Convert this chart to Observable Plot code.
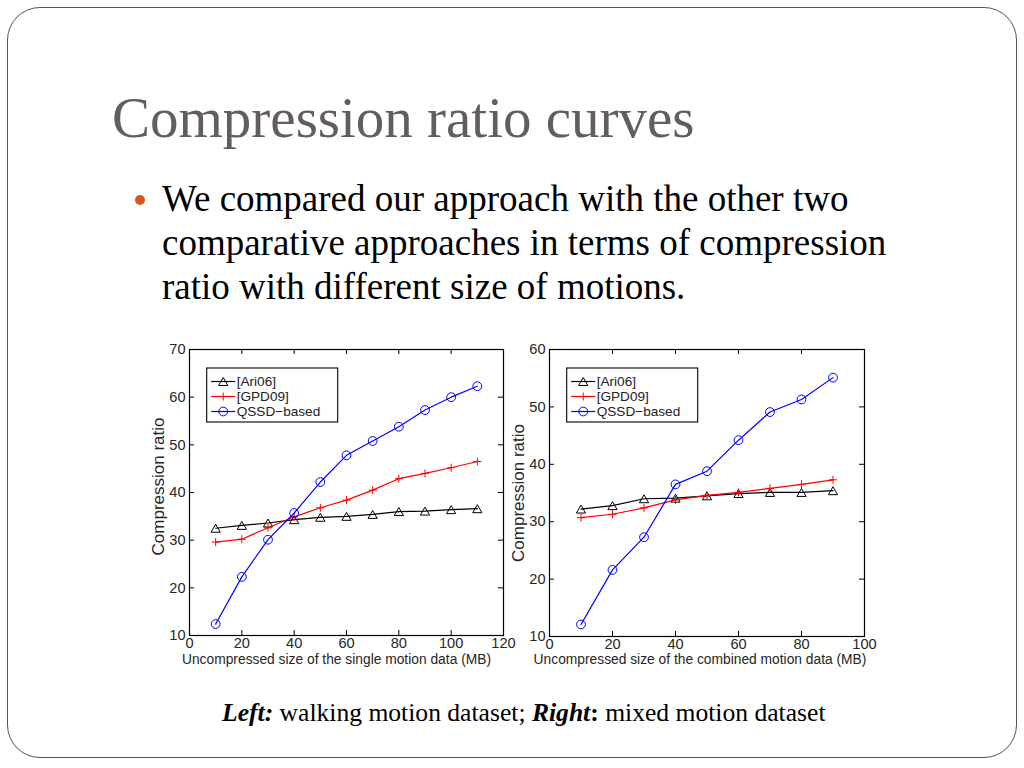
<!DOCTYPE html>
<html>
<head>
<meta charset="utf-8">
<script src="https://cdn.jsdelivr.net/npm/d3@7"></script>
<script src="https://cdn.jsdelivr.net/npm/@observablehq/plot@0.6"></script>
<style>
  html, body { margin: 0; padding: 0; background: #fff; }
  body { width: 1024px; height: 768px; position: relative; overflow: hidden; }
  #border { position: absolute; left: 7px; top: 7px; width: 1010px; height: 751px; box-sizing: border-box;
            border: 1.3px solid #555; border-radius: 33px; }
  #title { position: absolute; left: 112px; top: 89px; font-family: "Liberation Serif", "Times New Roman", serif;
           font-size: 57px; line-height: 57px; color: #635d5d; white-space: nowrap; }
  #bullet { position: absolute; left: 162px; top: 177px; font-family: "Liberation Serif", "Times New Roman", serif;
            font-size: 37px; line-height: 44px; color: #000; white-space: nowrap; }
  #dot { position: absolute; left: 135px; top: 195px; width: 10px; height: 10px; border-radius: 50%; background: #dc5422; }
  #caption { position: absolute; left: 222px; top: 700px; font-family: "Liberation Serif", "Times New Roman", serif;
             font-size: 25.6px; line-height: 25.6px; color: #000; white-space: nowrap; }
  .chart { position: absolute; top: 335px; }
  #left { left: 140px; }
  #right { left: 505px; }
</style>
</head>
<body>
<div id="border"></div>
<div id="title">Compression ratio curves</div>
<div id="dot"></div>
<div id="bullet">We compared our approach with the other two<br>comparative approaches in terms of compression<br>ratio with different size of motions.</div>
<div class="chart" id="left"></div>
<div class="chart" id="right"></div>
<div id="caption"><b><i>Left:</i></b> walking motion dataset; <b><i>Right</i>:</b> mixed motion dataset</div>
<script>
// ---- data ----
const seriesNames = ["[Ari06]", "[GPD09]", "QSSD\u2212based"];
const seriesColors = ["#000000", "#ff0000", "#0000ff"];

const xLeft = [10, 20, 30, 40, 50, 60, 70, 80, 90, 100, 110];
const ari06Left = [32.5, 33.1, 33.6, 34.3, 34.8, 35.0, 35.4, 36.0, 36.1, 36.4, 36.6];
const gpd09Left = [29.6, 30.2, 32.6, 34.9, 36.8, 38.4, 40.5, 42.9, 44.0, 45.2, 46.5];
const qssdLeft = [12.4, 22.3, 30.1, 35.7, 42.2, 47.8, 50.8, 53.8, 57.3, 60.0, 62.3];

const xRight = [10, 20, 30, 40, 50, 60, 70, 80, 90];
const ari06Right = [32.2, 32.8, 34.0, 34.1, 34.5, 34.9, 35.1, 35.1, 35.4];
const gpd09Right = [30.7, 31.3, 32.4, 33.8, 34.6, 35.1, 35.8, 36.5, 37.3];
const qssdRight = [12.1, 21.6, 27.3, 36.5, 38.8, 44.2, 49.1, 51.3, 55.1];

const xTicksLeft = [0, 20, 40, 60, 80, 100, 120];
const yTicksLeft = [10, 20, 30, 40, 50, 60, 70];
const xTicksRight = [0, 20, 40, 60, 80, 100];
const yTicksRight = [10, 20, 30, 40, 50, 60];

const xLabelLeft = "Uncompressed size of the single motion data (MB)";
const xLabelRight = "Uncompressed size of the combined motion data (MB)";
const yLabel = "Compression ratio";

// ---- marker symbols ----
const triSym = { draw(ctx, size) { const r = Math.sqrt(size / Math.PI); const h = r * Math.sqrt(3);
  ctx.moveTo(0, -h / 2); ctx.lineTo(r, h / 2); ctx.lineTo(-r, h / 2); ctx.closePath(); } };
const plusSym = { draw(ctx, size) { const r = Math.sqrt(size / Math.PI);
  ctx.moveTo(-r, 0); ctx.lineTo(r, 0); ctx.moveTo(0, -r); ctx.lineTo(0, r); } };
const circSym = d3.symbolCircle;
const seriesSymbols = [triSym, plusSym, circSym];
const seriesR = [4.6, 4.0, 4.4];

function legendMark() {
  return (index, scales, values, dims) => {
    const g = d3.create("svg:g");
    const bx = dims.marginLeft + 17.7, by = dims.marginTop + 19;
    g.append("rect").attr("x", bx).attr("y", by).attr("width", 131).attr("height", 54)
      .attr("fill", "#fff").attr("stroke", "#000").attr("stroke-width", 1.1);
    seriesNames.forEach((name, i) => {
      const cy = by + 13.5 + i * 15;
      g.append("line").attr("x1", bx + 4.5).attr("x2", bx + 28.5).attr("y1", cy).attr("y2", cy)
        .attr("stroke", seriesColors[i]).attr("stroke-width", 1.2);
      g.append("path").attr("transform", `translate(${bx + 16.5},${cy})`)
        .attr("d", d3.symbol(seriesSymbols[i], Math.PI * seriesR[i] * seriesR[i])())
        .attr("fill", "none").attr("stroke", seriesColors[i]).attr("stroke-width", 1);
      g.append("text").attr("x", bx + 30).attr("y", cy).attr("dy", "0.35em")
        .style("text-anchor", "start").style("font-size", "13.6px").attr("fill", "#222").text(name);
    });
    return g.node();
  };
}

function chart({ xs, vals, xDomain, xTicks, yDomain, yTicks, xLabel, width, height, mL, mR, mT, mB, xlDx, xlDy, ylDy }) {
  const innerW = width - mL - mR, innerH = height - mT - mB;
  const marks = [
    Plot.frame({ stroke: "#000", strokeWidth: 1.2 }),
    Plot.tickY(yTicks, { y: d => d, insetRight: innerW - 5, stroke: "#000" }),
    Plot.tickY(yTicks, { y: d => d, insetLeft: innerW - 5, stroke: "#000" }),
    Plot.tickX(xTicks, { x: d => d, insetTop: innerH - 5, stroke: "#000" }),
    Plot.tickX(xTicks, { x: d => d, insetBottom: innerH - 5, stroke: "#000" }),
    Plot.axisX(xTicks, { tickSize: 0, tickPadding: 2, label: null, fontSize: 14.6, fill: "#262626" }),
    Plot.axisY(yTicks, { tickSize: 0, tickPadding: 4, label: null, fontSize: 14.6, fill: "#262626" }),
    Plot.text([xLabel], { text: d => d, frameAnchor: "bottom", lineAnchor: "middle", dx: xlDx, dy: xlDy, fontSize: 13.8, fill: "#262626" }),
    Plot.text([yLabel], { text: d => d, frameAnchor: "left", textAnchor: "middle", rotate: -90, dx: -31, dy: ylDy, fontSize: 17, fill: "#262626" })
  ];
  seriesNames.forEach((name, i) => {
    const rows = xs.map((x, j) => ({ x, y: vals[i][j] }));
    marks.push(Plot.line(rows, { x: "x", y: "y", stroke: seriesColors[i], strokeWidth: 1.2 }));
    marks.push(Plot.dot(rows, { x: "x", y: "y", symbol: seriesSymbols[i], r: seriesR[i], fill: "none", stroke: seriesColors[i], strokeWidth: 1 }));
  });
  marks.push(legendMark());
  return Plot.plot({
    width, height, marginLeft: mL, marginRight: mR, marginTop: mT, marginBottom: mB,
    x: { domain: xDomain, axis: null },
    y: { domain: yDomain, axis: null },
    style: { fontFamily: "'Liberation Sans', Arial, sans-serif", background: "transparent", overflow: "visible" },
    marks
  });
}

document.getElementById("left").append(chart({
  xs: xLeft, vals: [ari06Left, gpd09Left, qssdLeft], xDomain: [0, 120], xTicks: xTicksLeft,
  yDomain: [10, 70], yTicks: yTicksLeft, xLabel: xLabelLeft,
  width: 380, height: 340, mL: 49, mR: 17, mT: 14, mB: 40, xlDx: -10, xlDy: 24, ylDy: -6
}));
document.getElementById("right").append(chart({
  xs: xRight, vals: [ari06Right, gpd09Right, qssdRight], xDomain: [0, 100], xTicks: xTicksRight,
  yDomain: [10, 60], yTicks: yTicksRight, xLabel: xLabelRight,
  width: 380, height: 340, mL: 44, mR: 21, mT: 14, mB: 39, xlDx: -7, xlDy: 23, ylDy: 0
}));
</script>
</body>
</html>
